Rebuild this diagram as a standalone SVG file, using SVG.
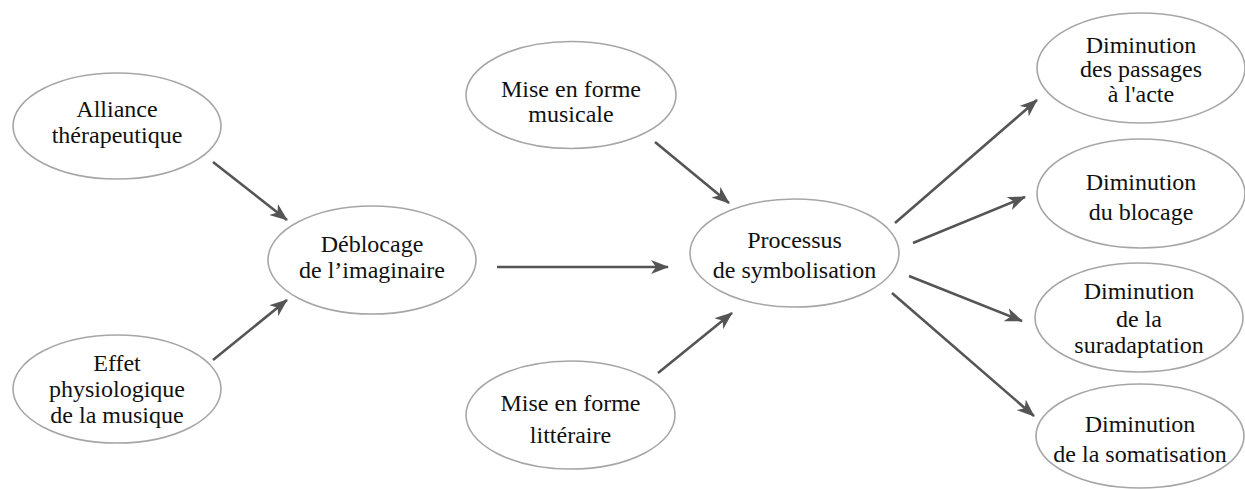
<svg xmlns="http://www.w3.org/2000/svg" width="1245" height="489" viewBox="0 0 1245 489">
<defs>
<style>
.node ellipse{fill:#fff;stroke:#a6a6a6;stroke-width:1.6}
.node text{font-family:'Liberation Serif','Times New Roman',Times,'Nimbus Roman','Nimbus Roman No9 L','Noto Serif','DejaVu Serif','FreeSerif','EB Garamond',Georgia,serif;font-size:24px;fill:#111;text-anchor:middle}
.conn line{stroke:#555;stroke-width:2.6;fill:none}
</style>
<marker id="ah" markerUnits="userSpaceOnUse" viewBox="0 0 18 14" refX="17" refY="7" markerWidth="18" markerHeight="14" orient="auto">
<path d="M0,0 L18,7 L0,14 L5,7 z" fill="#555"/>
</marker>
</defs>
<rect width="1245" height="489" fill="#fff"/>
<g id="connectors" class="conn">
<line x1="213" y1="162" x2="287" y2="220" marker-end="url(#ah)"/>
<line x1="213" y1="360" x2="287" y2="300" marker-end="url(#ah)"/>
<line x1="497" y1="267" x2="668" y2="267" marker-end="url(#ah)"/>
<line x1="655" y1="142" x2="729" y2="203" marker-end="url(#ah)"/>
<line x1="658" y1="373" x2="732" y2="313" marker-end="url(#ah)"/>
<line x1="895" y1="223" x2="1037" y2="100" marker-end="url(#ah)"/>
<line x1="913" y1="243" x2="1025" y2="197" marker-end="url(#ah)"/>
<line x1="909" y1="276" x2="1022" y2="321" marker-end="url(#ah)"/>
<line x1="892" y1="293" x2="1034" y2="416" marker-end="url(#ah)"/>
</g>
<g id="alliance" class="node">
<ellipse cx="117" cy="126" rx="104" ry="53"/>
<text x="117" y="117">Alliance</text>
<text x="117" y="143">thérapeutique</text>
</g>
<g id="effet" class="node">
<ellipse cx="117" cy="389" rx="104" ry="54"/>
<text x="117" y="371">Effet</text>
<text x="117" y="397">physiologique</text>
<text x="117" y="423">de la musique</text>
</g>
<g id="deblocage" class="node">
<ellipse cx="372" cy="260" rx="104" ry="54"/>
<text x="372" y="252">Déblocage</text>
<text x="372" y="278">de l’imaginaire</text>
</g>
<g id="musicale" class="node">
<ellipse cx="571" cy="95" rx="105" ry="53.5"/>
<text x="571" y="97">Mise en forme</text>
<text x="571" y="122">musicale</text>
</g>
<g id="litteraire" class="node">
<ellipse cx="570.5" cy="415" rx="104.5" ry="54"/>
<text x="570.5" y="411">Mise en forme</text>
<text x="570.5" y="443">littéraire</text>
</g>
<g id="processus" class="node">
<ellipse cx="794.5" cy="253" rx="104.5" ry="54"/>
<text x="794.5" y="248">Processus</text>
<text x="794.5" y="278">de symbolisation</text>
</g>
<g id="passages" class="node">
<ellipse cx="1141" cy="68" rx="104" ry="55"/>
<text x="1141" y="53">Diminution</text>
<text x="1141" y="77">des passages</text>
<text x="1141" y="102">à l'acte</text>
</g>
<g id="blocage" class="node">
<ellipse cx="1141" cy="193.5" rx="104" ry="54.5"/>
<text x="1141" y="190">Diminution</text>
<text x="1141" y="220">du blocage</text>
</g>
<g id="suradaptation" class="node">
<ellipse cx="1139" cy="317.5" rx="104" ry="54.5"/>
<text x="1139" y="299">Diminution</text>
<text x="1139" y="327">de la</text>
<text x="1139" y="353">suradaptation</text>
</g>
<g id="somatisation" class="node">
<ellipse cx="1140" cy="436" rx="104" ry="52"/>
<text x="1140" y="432">Diminution</text>
<text x="1140" y="462">de la somatisation</text>
</g>
</svg>
